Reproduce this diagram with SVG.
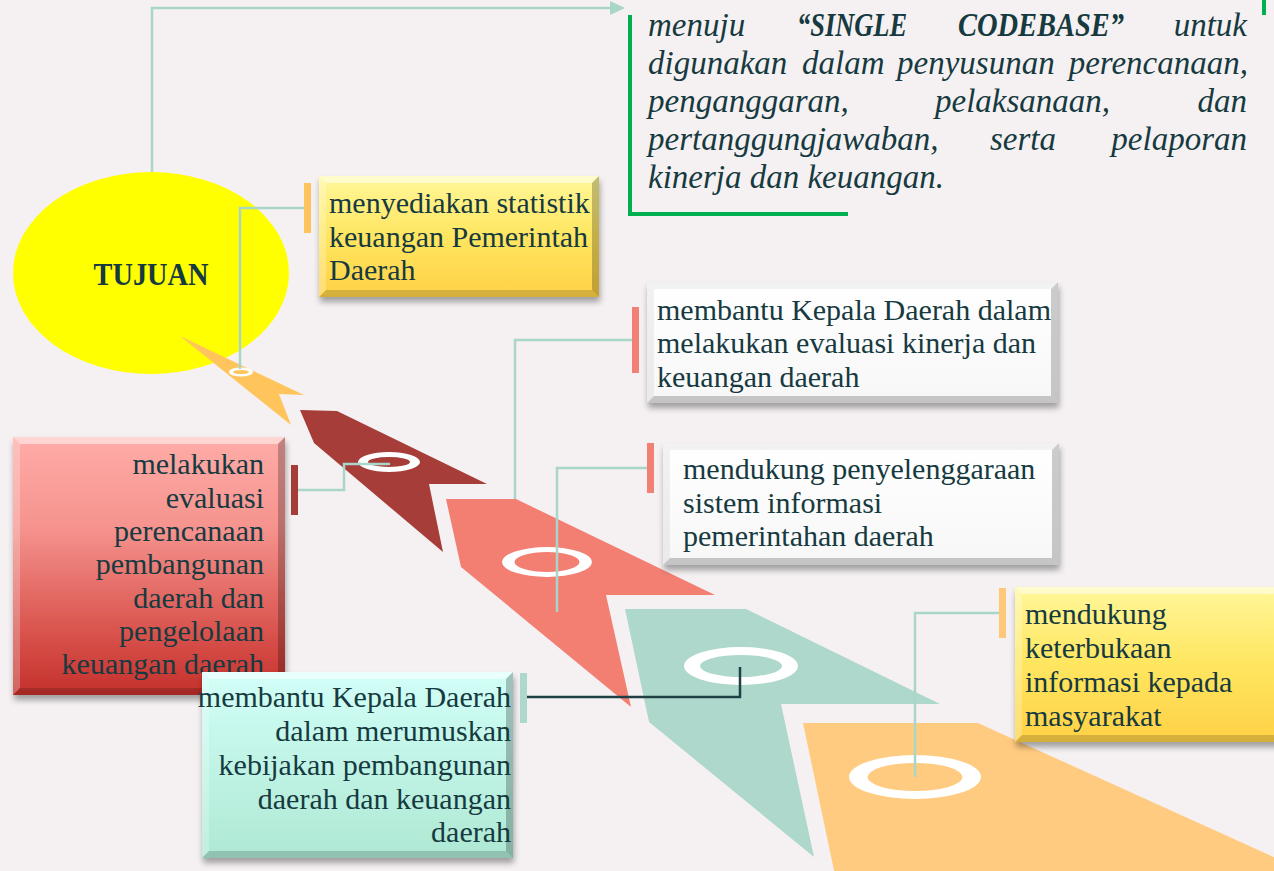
<svg xmlns="http://www.w3.org/2000/svg" width="1274" height="871" viewBox="0 0 1274 871">
<defs>
<style>
.t{font-family:"Liberation Serif","DejaVu Serif",serif;font-size:30px;fill:#163A40}
.it{font-family:"Liberation Serif","DejaVu Serif",serif;font-size:33px;font-style:italic;fill:#163A40}
.bi{font-weight:bold}
.e{text-anchor:end}
.cn{fill:none;stroke:#A9D6C8;stroke-width:2.5}
.ring{fill:#FFFFFF;fill-rule:evenodd}
.bl{fill:#FFFFFF;opacity:0.5}
.bl2{fill:#FFFFFF;opacity:0.25}
.bd{fill:#000000;opacity:0.16}
.bd2{fill:#000000;opacity:0.24}
.wl{fill:#000000;opacity:0.05}
.wd{fill:#000000;opacity:0.2}
</style>
<linearGradient id="gY" x1="0" y1="0" x2="0" y2="1">
<stop offset="0" stop-color="#FFF79A"/><stop offset="0.5" stop-color="#FFE660"/><stop offset="1" stop-color="#FFD146"/>
</linearGradient>
<linearGradient id="gW" x1="0" y1="0" x2="0" y2="1">
<stop offset="0" stop-color="#FFFFFF"/><stop offset="1" stop-color="#F8F7F8"/>
</linearGradient>
<linearGradient id="gR" x1="0" y1="0" x2="0" y2="1">
<stop offset="0" stop-color="#FFACA8"/><stop offset="0.35" stop-color="#F6938E"/><stop offset="0.75" stop-color="#D9544E"/><stop offset="1" stop-color="#C4302B"/>
</linearGradient>
<linearGradient id="gT" x1="0" y1="0" x2="0" y2="1">
<stop offset="0" stop-color="#D2FFF8"/><stop offset="1" stop-color="#AEE8D3"/>
</linearGradient>
<filter id="sh" x="-5%" y="-5%" width="115%" height="125%">
<feGaussianBlur in="SourceAlpha" stdDeviation="3"/>
<feOffset dx="1" dy="5"/>
<feComponentTransfer><feFuncA type="linear" slope="0.35"/></feComponentTransfer>
<feMerge><feMergeNode/><feMergeNode in="SourceGraphic"/></feMerge>
</filter>
<marker id="arr" markerUnits="userSpaceOnUse" markerWidth="16" markerHeight="16" refX="1" refY="8" orient="auto" viewBox="0 0 16 16">
<path d="M0,1 L15,8 L0,15 Z" fill="#A9D6C8"/>
</marker>
</defs>
<rect x="0" y="0" width="1274" height="871" fill="#F5F1F2"/>

<g id="chevrons">
<polygon points="803,723 978,723 1300,869 1300,880 836,880" fill="#FFCB80"/>
<polygon points="625,609 746,609 940,704 781,704 814,857 649,722" fill="#AED8CC"/>
<polygon points="446,499 516,499 715,595 606,595 631,707 461,567" fill="#F37F73"/>
<polygon points="300,410 337,411 487,484 429,484 443,552 314,443" fill="#A63D39"/>
<path class="ring" d="M849,777 a66,22 0 1,0 132,0 a66,22 0 1,0 -132,0 Z M867.5,777 a47.5,14 0 1,0 95,0 a47.5,14 0 1,0 -95,0 Z"/>
<path class="ring" d="M684,666 a57,19 0 1,0 114,0 a57,19 0 1,0 -114,0 Z M700,666 a41,11 0 1,0 82,0 a41,11 0 1,0 -82,0 Z"/>
<path class="ring" d="M502,562 a45,15 0 1,0 90,0 a45,15 0 1,0 -90,0 Z M514.5,562 a32.5,10 0 1,0 65,0 a32.5,10 0 1,0 -65,0 Z"/>
<path class="ring" d="M358,462 a31,10 0 1,0 62,0 a31,10 0 1,0 -62,0 Z M368,462 a21,5 0 1,0 42,0 a21,5 0 1,0 -42,0 Z"/>
</g>

<g id="tujuan">
<ellipse cx="151" cy="273" rx="138" ry="101" fill="#FFFF00"/>
<text class="t bi" x="151" y="285" text-anchor="middle" font-size="32" textLength="115" lengthAdjust="spacingAndGlyphs" style="font-size:32px">TUJUAN</text>
</g>

<g id="small-chevron">
<polygon points="180,336 304,395 279,394 291,425" fill="#FFC55C"/>
<path class="ring" d="M229,372 a12,4.5 0 1,0 24,0 a12,4.5 0 1,0 -24,0 Z M233,372 a8,2 0 1,0 16,0 a8,2 0 1,0 -16,0 Z"/>
</g>

<g id="connectors">
<path class="cn" d="M152,172 V8 H611" marker-end="url(#arr)"/>
<path class="cn" d="M304,208 H240 V369"/>
<path class="cn" d="M632,340 H515 V499"/>
<path class="cn" d="M647,468 H557 V612"/>
<path class="cn" d="M999,613 H915 V777"/>
<path class="cn" d="M298,490 H344 V464 H390"/>
<path d="M527,697 H740 V667" fill="none" stroke="#1F4045" stroke-width="2.5"/>
</g>

<g id="bars">
<rect x="304" y="183" width="7" height="50" fill="#FFC35E"/>
<rect x="632" y="307" width="7" height="66" fill="#F28074"/>
<rect x="647" y="443" width="7" height="50" fill="#F28074"/>
<rect x="999" y="588" width="7" height="50" fill="#FFC878"/>
<rect x="291" y="465" width="7" height="50" fill="#A53C38"/>
<rect x="520" y="673" width="7" height="50" fill="#AED8CC"/>
</g>

<g id="tujuan-text">
<path d="M630,15 V214 H848" fill="none" stroke="#00B050" stroke-width="4"/>
<path d="M1264,0 V15" fill="none" stroke="#00B050" stroke-width="4"/>
<text class="it" x="648" y="36">menuju</text>
<text class="it bi" x="797" y="36" textLength="110" lengthAdjust="spacingAndGlyphs">“SINGLE</text>
<text class="it bi" x="958" y="36" textLength="166" lengthAdjust="spacingAndGlyphs">CODEBASE”</text>
<text class="it e" x="1247" y="36">untuk</text>
<text class="it" x="648" y="74">digunakan</text>
<text class="it" x="802" y="74">dalam</text>
<text class="it" x="897" y="74">penyusunan</text>
<text class="it e" x="1248" y="74">perencanaan,</text>
<text class="it" x="648" y="112">penganggaran,</text>
<text class="it" x="935" y="112">pelaksanaan,</text>
<text class="it e" x="1247" y="112">dan</text>
<text class="it" x="648" y="150">pertanggungjawaban,</text>
<text class="it" x="990" y="150">serta</text>
<text class="it e" x="1247" y="150">pelaporan</text>
<text class="it" x="648" y="188">kinerja dan keuangan.</text>
</g>

<g id="box-statistik">
<rect x="319" y="176" width="280" height="121" fill="url(#gY)" filter="url(#sh)"/>
<polygon class="bl" points="319,176 599,176 592,183 326,183"/>
<polygon class="bl2" points="319,176 326,183 326,290 319,297"/>
<polygon class="bd" points="319,297 326,290 592,290 599,297"/>
<polygon class="bd2" points="599,176 599,297 592,290 592,183"/>
<text class="t" x="329" y="213">menyediakan statistik</text>
<text class="t" x="329" y="247">keuangan Pemerintah</text>
<text class="t" x="329" y="280">Daerah</text>
</g>

<g id="box-evaluasi-kinerja">
<rect x="647" y="282" width="411" height="121" fill="url(#gW)" filter="url(#sh)"/>
<polygon class="wl" points="647,282 1058,282 1051,289 654,289"/>
<polygon class="wl" points="647,282 654,289 654,396 647,403"/>
<polygon class="wd" points="647,403 654,396 1051,396 1058,403"/>
<polygon class="wd" points="1058,282 1058,403 1051,396 1051,289"/>
<text class="t" x="657" y="320">membantu Kepala Daerah dalam</text>
<text class="t" x="657" y="353">melakukan evaluasi kinerja dan</text>
<text class="t" x="657" y="387">keuangan daerah</text>
</g>

<g id="box-sistem-informasi">
<rect x="663" y="443" width="396" height="122" fill="url(#gW)" filter="url(#sh)"/>
<polygon class="wl" points="663,443 1059,443 1052,450 670,450"/>
<polygon class="wl" points="663,443 670,450 670,558 663,565"/>
<polygon class="wd" points="663,565 670,558 1052,558 1059,565"/>
<polygon class="wd" points="1059,443 1059,565 1052,558 1052,450"/>
<text class="t" x="683" y="479">mendukung penyelenggaraan</text>
<text class="t" x="683" y="513">sistem informasi</text>
<text class="t" x="683" y="546">pemerintahan daerah</text>
</g>

<g id="box-keterbukaan">
<rect x="1015" y="587" width="280" height="155" fill="url(#gY)" filter="url(#sh)"/>
<polygon class="bl" points="1015,587 1295,587 1288,594 1022,594"/>
<polygon class="bl2" points="1015,587 1022,594 1022,735 1015,742"/>
<polygon class="bd" points="1015,742 1022,735 1288,735 1295,742"/>
<text class="t" x="1025" y="624">mendukung</text>
<text class="t" x="1025" y="658">keterbukaan</text>
<text class="t" x="1025" y="692">informasi kepada</text>
<text class="t" x="1025" y="726">masyarakat</text>
</g>

<g id="box-evaluasi-perencanaan">
<rect x="13" y="437" width="272" height="258" fill="url(#gR)" filter="url(#sh)"/>
<polygon class="bl" points="13,437 285,437 278,444 20,444"/>
<polygon class="bl2" points="13,437 20,444 20,688 13,695"/>
<polygon class="bd" points="13,695 20,688 278,688 285,695"/>
<polygon class="bd2" points="285,437 285,695 278,688 278,444"/>
<text class="t e" x="264" y="474">melakukan</text>
<text class="t e" x="264" y="508">evaluasi</text>
<text class="t e" x="264" y="541">perencanaan</text>
<text class="t e" x="264" y="574">pembangunan</text>
<text class="t e" x="264" y="608">daerah dan</text>
<text class="t e" x="264" y="641">pengelolaan</text>
<text class="t e" x="264" y="674">keuangan daerah</text>
</g>

<g id="box-kebijakan">
<rect x="202" y="672" width="311" height="186" fill="url(#gT)" filter="url(#sh)"/>
<polygon class="bl" points="202,672 513,672 506,679 209,679"/>
<polygon class="bl2" points="202,672 209,679 209,851 202,858"/>
<polygon class="bd" points="202,858 209,851 506,851 513,858"/>
<polygon class="bd2" points="513,672 513,858 506,851 506,679"/>
<text class="t e" x="511" y="707">membantu Kepala Daerah</text>
<text class="t e" x="511" y="741">dalam merumuskan</text>
<text class="t e" x="511" y="775">kebijakan pembangunan</text>
<text class="t e" x="511" y="809">daerah dan keuangan</text>
<text class="t e" x="511" y="842">daerah</text>
</g>
</svg>
